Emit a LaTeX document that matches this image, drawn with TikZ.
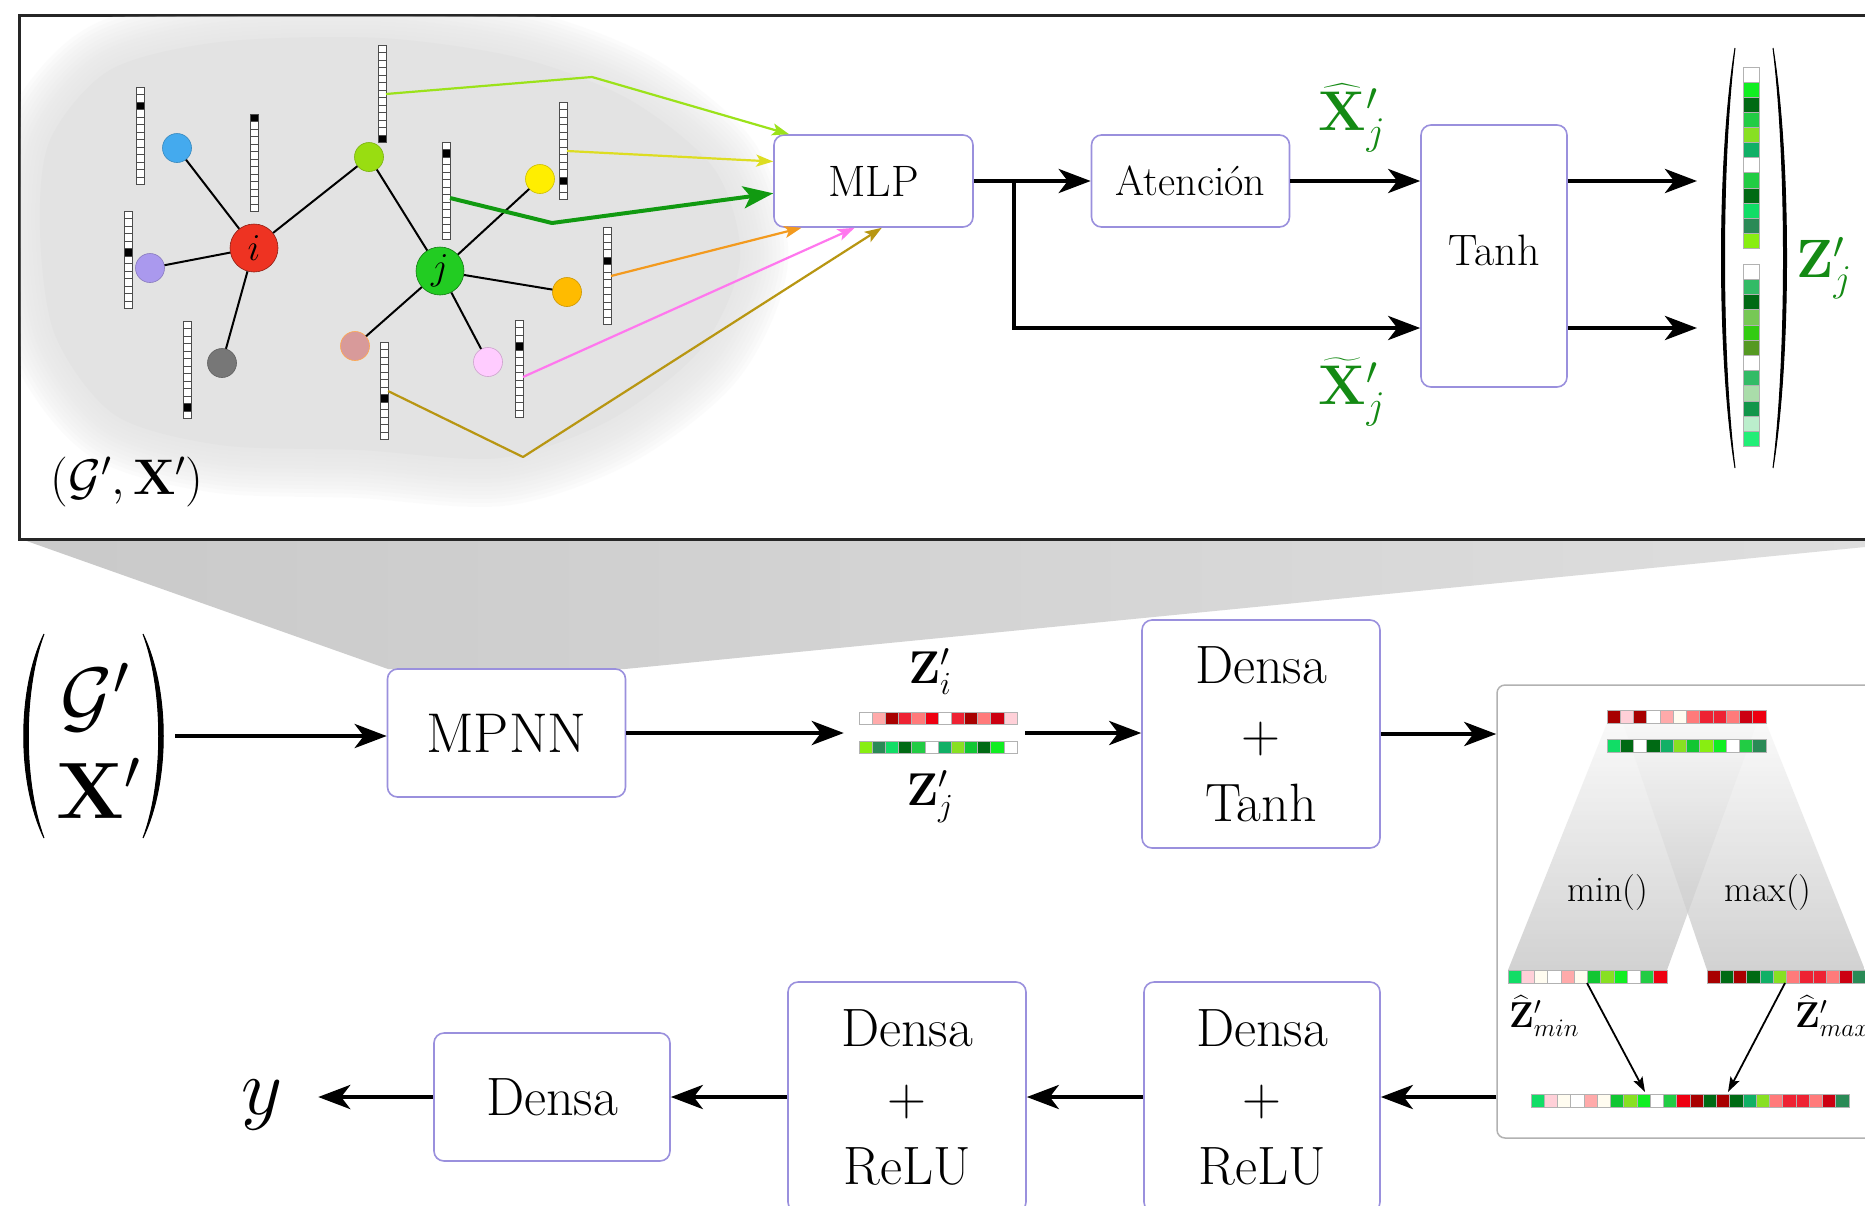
\RequirePackage{fix-cm}
\documentclass[tikz,border=0pt]{standalone}
\usepackage{amsmath}
\usetikzlibrary{arrows.meta,calc}
\definecolor{boxc}{HTML}{9A90DD}
\definecolor{dg}{HTML}{148A14}
\definecolor{rD}{HTML}{A80000}
\definecolor{rP}{HTML}{FFAAAA}
\definecolor{rPP}{HTML}{FFD0D8}
\definecolor{rM}{HTML}{EE2233}
\definecolor{rS}{HTML}{FF7A7A}
\definecolor{rB}{HTML}{EE0011}
\definecolor{rC}{HTML}{CC0011}
\definecolor{wC}{HTML}{FFFCF0}
\definecolor{gL}{HTML}{88EE11}
\definecolor{gSea}{HTML}{2A8A56}
\definecolor{gS}{HTML}{11DD66}
\definecolor{gD}{HTML}{006A14}
\definecolor{gM}{HTML}{22CC44}
\definecolor{gT}{HTML}{11B066}
\definecolor{gY}{HTML}{88E022}
\definecolor{gMb}{HTML}{11C633}
\definecolor{gA}{HTML}{11EE22}
\definecolor{gMS}{HTML}{33BB66}
\definecolor{gLG}{HTML}{77C855}
\definecolor{gC}{HTML}{33CC11}
\definecolor{gO}{HTML}{559922}
\definecolor{gPale}{HTML}{AADDAA}
\definecolor{gF}{HTML}{11964A}
\definecolor{gVL}{HTML}{BBEECC}
\definecolor{gSp}{HTML}{22EE77}
\definecolor{cI}{HTML}{EE3322}
\definecolor{cJ}{HTML}{22CC22}
\definecolor{cB}{HTML}{44AAEE}
\definecolor{cP}{HTML}{AA99EE}
\definecolor{cG}{HTML}{777777}
\definecolor{cL}{HTML}{99DD11}
\definecolor{cY}{HTML}{FFEE00}
\definecolor{cO}{HTML}{FFBB00}
\definecolor{cK}{HTML}{FFCCFF}
\definecolor{cR}{HTML}{D89A9A}
\definecolor{aL}{HTML}{9BE21A}
\definecolor{aY}{HTML}{DDDD22}
\definecolor{aG}{HTML}{119A11}
\definecolor{aO}{HTML}{F39A1E}
\definecolor{aK}{HTML}{FF77EE}
\definecolor{aB}{HTML}{B89612}
\newcommand\colbar[5]{\foreach \cc [count=\n from 0] in {#5}{\filldraw[draw=gray!60,line width=0.6pt,fill=\cc] ({#1+\n*#3},#2) rectangle ++(#3,#4);}}
\newcommand\colcol[5]{\foreach \cc [count=\n from 0] in {#5}{\filldraw[draw=gray!60,line width=0.6pt,fill=\cc] (#1,{#2+\n*#4}) rectangle ++(#3,#4);}}
\newcommand\featvec[3]{\foreach \n in {0,...,12}{\draw[draw=gray!60!black,line width=0.6pt,fill=white] ({#1-4},{#2+\n*7.5}) rectangle ++(8,7.5);}\fill[black] ({#1-3.5},{#2+#3*7.5+0.5}) rectangle ++(7,6.5);}
\begin{document}
\begin{tikzpicture}[x=1pt,y=-1pt,
  box/.style={draw=boxc,line width=1.6pt,rounded corners=10pt,fill=white,align=center,inner sep=0pt},
  flow/.style={line width=4.5pt,-{Stealth[length=32pt,width=24pt,inset=9pt]}},
  carr/.style={line width=2.2pt,line join=round,-{Stealth[length=17pt,width=12pt,inset=4pt]}},
  gedge/.style={line width=2pt},
  gn/.style={circle,inner sep=0pt,minimum size=29pt,line width=0.6pt},
  lbl/.style={inner sep=0pt}]
\useasboundingbox (0,0) rectangle (1865,1205);
\fill[white] (0,0) rectangle (1865,1205);
% zoom shadow
\shade[left color=gray!42,right color=gray!26] (21,539) -- (1865,539) -- (1865,547) -- (625,669) -- (388,669) -- cycle;
% top frame
\draw[line width=3pt,draw=black!85,fill=white] (19,15) rectangle (1920,539);
% soft blob
\begin{scope}
\clip (20.5,16.5) rectangle (1865,537.5);
\foreach \w in {96,88,...,8}
  \draw[line width=\w pt,gray!22,opacity=0.11,line join=round] plot[smooth cycle] coordinates {(50,140) (110,70) (220,42) (380,38) (520,58) (630,100) (715,170) (740,260) (700,350) (610,420) (500,458) (360,450) (220,445) (115,415) (55,335) (40,230)};
\fill[gray!22] plot[smooth cycle] coordinates {(50,140) (110,70) (220,42) (380,38) (520,58) (630,100) (715,170) (740,260) (700,350) (610,420) (500,458) (360,450) (220,445) (115,415) (55,335) (40,230)};
\end{scope}
% graph
\node[gn,fill=cI,draw=cI!60!black,minimum size=48pt,font=\fontsize{38}{38}\selectfont] (ni) at (254,248) {$i$};
\node[gn,fill=cJ,draw=cJ!60!black,minimum size=48pt,font=\fontsize{38}{38}\selectfont] (nj) at (440,271) {$j$};
\node[gn,fill=cB,draw=cB!80!black] (nb) at (177,148) {};
\node[gn,fill=cP,draw=cP!80!black] (np) at (150,268) {};
\node[gn,fill=cG,draw=cG!80!black] (ng) at (222,363) {};
\node[gn,fill=cL,draw=cL!80!black] (nl) at (369,157) {};
\node[gn,fill=cY,draw=cY!80!black] (ny) at (540,179) {};
\node[gn,fill=cO,draw=cO!80!black] (no) at (567,292) {};
\node[gn,fill=cK,draw=cK!80!black] (nk) at (488,362) {};
\node[gn,fill=cR,draw=orange!70] (nr) at (355,346) {};
\draw[gedge] (ni)--(nb) (ni)--(np) (ni)--(ng) (ni)--(nl) (nl)--(nj) (nj)--(ny) (nj)--(no) (nj)--(nk) (nj)--(nr);
% feature vectors
\featvec{140}{87}{2}
\featvec{254}{114}{0}
\featvec{128}{211}{5}
\featvec{187}{321}{11}
\featvec{382}{45}{12}
\featvec{446}{142}{1}
\featvec{563}{102}{10}
\featvec{607}{227}{4}
\featvec{519}{320}{3}
\featvec{384}{342}{7}
\node[lbl,font=\fontsize{50}{54}\selectfont] (gxs) at (127,482) {$(\mathcal{G}',\mathbf{X}')$};
% top pipeline boxes
\node[box,minimum width=199pt,minimum height=92pt,font=\fontsize{44}{50}\selectfont] (mlp) at (873.5,181) {MLP};
\node[box,minimum width=198pt,minimum height=92pt,font=\fontsize{42}{50}\selectfont] (aten) at (1190.5,181) {Atención};
\node[box,minimum width=146pt,minimum height=262pt,font=\fontsize{44}{50}\selectfont] (tanh) at (1494,256) {\raisebox{12pt}{Tanh}};
% coloured arrows into MLP
\coordinate (s5) at (386,94);
\coordinate (s7) at (567,151);
\coordinate (s6) at (450,198);
\coordinate (s8) at (611,276);
\coordinate (s9) at (523,377);
\coordinate (s10) at (388,391);
\coordinate (b5) at (592,77);
\coordinate (b6) at (552,223);
\coordinate (b10) at (523,457);
\draw[carr,aL] (s5) -- (b5) -- (mlp.151);
\draw[carr,aY] (s7) -- (mlp.169);
\draw[carr,aG,line width=4pt,-{Stealth[length=30pt,width=22pt,inset=7pt]}] (s6) -- (b6) -- (mlp.187);
\draw[carr,aO] (s8) -- (mlp.213);
\draw[carr,aK] (s9) -- (mlp.248);
\draw[carr,aB] (s10) -- (b10) -- (mlp.280);
% flow in top box
\coordinate (br) at (1014,181);
\coordinate (lowy) at (0,328);
\coordinate (zo1) at (1697,181);
\coordinate (zo2) at (1697,328);
\draw[flow] (mlp.east) -- (aten.west);
\draw[flow,line join=miter] (br) |- (tanh.west |- lowy);
\draw[flow] (aten.east) -- (tanh.west |- aten.east);
\draw[flow] (tanh.east |- zo1) -- (zo1);
\draw[flow] (tanh.east |- zo2) -- (zo2);
\node[lbl,text=dg,font=\fontsize{56}{60}\selectfont] (xhat) at (1352,118) {$\widehat{\mathbf{X}}'_j$};
\node[lbl,text=dg,font=\fontsize{56}{60}\selectfont] (xtil) at (1352,392) {$\widetilde{\mathbf{X}}'_j$};
% Z'_j column
\filldraw[line width=1pt] (1735,48) .. controls (1717,160) and (1717,356) .. (1735,468) .. controls (1721,356) and (1721,160) .. (1735,48) -- cycle;
\filldraw[line width=1pt] (1773,48) .. controls (1791,160) and (1791,356) .. (1773,468) .. controls (1787,356) and (1787,160) .. (1773,48) -- cycle;
\colcol{1743}{67}{16}{15.1}{white,gA,gD,gM,gY,gT,white,gM,gD,gS,gSea,gL}
\colcol{1743}{264}{16}{15.2}{white,gMS,gD,gLG,gC,gO,white,gMS,gPale,gF,gVL,gSp}
\node[lbl,text=dg,font=\fontsize{54}{60}\selectfont] (zjtop) at (1824,268) {$\mathbf{Z}'_j$};
% bottom: input
\filldraw[line width=1pt] (44,634) .. controls (17,690) and (17,782) .. (44,838) .. controls (23,782) and (23,690) .. (44,634) -- cycle;
\filldraw[line width=1pt] (143,634) .. controls (170,690) and (170,782) .. (143,838) .. controls (164,782) and (164,690) .. (143,634) -- cycle;
\node[lbl,minimum width=164pt,minimum height=204pt] (gx) at (93,736) {};
\node[lbl,font=\fontsize{80}{80}\selectfont] (gxg) at (95,697) {$\mathcal{G}'$};
\node[lbl,font=\fontsize{80}{80}\selectfont] (gxx) at (98,788) {$\mathbf{X}'$};
\node[box,minimum width=238pt,minimum height=128pt,font=\fontsize{56}{60}\selectfont] (mpnn) at (506.5,733) {MPNN};
\node[lbl,minimum width=158pt,minimum height=42pt] (zb) at (938,733) {};
\colbar{859}{712}{13.17}{12}{white,rP,rD,rM,rS,rB,white,rM,rD,rS,rC,rPP}
\colbar{859}{741}{13.17}{12}{gL,gSea,gS,gD,gM,white,gT,gY,gMb,gD,gA,white}
\node[lbl,font=\fontsize{46}{50}\selectfont] (zil) at (930,672) {$\mathbf{Z}'_i$};
\node[lbl,font=\fontsize{46}{50}\selectfont] (zjl) at (930,797) {$\mathbf{Z}'_j$};
\node[box,minimum width=238pt,minimum height=228pt,font=\fontsize{54}{69}\selectfont] (dt) at (1261,734) {Densa\\+\\Tanh};
% right box
\node[draw=gray!60,line width=1.5pt,rounded corners=8pt,fill=white,minimum width=420pt,minimum height=453pt,inner sep=0pt] (rb) at (1707,911.5) {};
\shade[top color=gray!6,bottom color=gray!50,opacity=0.7] (1607,723) -- (1757,723) -- (1667,970) -- (1508,970) -- cycle;
\shade[top color=gray!6,bottom color=gray!50,opacity=0.7] (1623,723) -- (1766,723) -- (1865,970) -- (1707,970) -- cycle;
\colbar{1607}{710}{13.25}{13}{rD,rPP,rD,white,rP,wC,rS,rM,rM,rS,rC,rB}
\colbar{1607}{739}{13.25}{13}{gS,gD,white,gD,gT,gY,gMb,gL,gA,white,gM,gSea}
\colbar{1508}{970}{13.25}{13}{gS,rPP,wC,white,rP,wC,gMb,gY,gA,white,gM,rB}
\colbar{1707}{970}{13.25}{13}{rD,gD,rD,gD,gT,gY,rS,rM,rM,rS,rC,gSea}
\colbar{1531}{1094}{13.25}{13}{gS,rPP,wC,white,rP,wC,gMb,gY,gA,white,gM,rB,rD,gD,rD,gD,gT,gY,rS,rM,rM,rS,rC,gSea}
\node[lbl,font=\fontsize{36}{40}\selectfont] (minl) at (1608,893) {min()};
\node[lbl,font=\fontsize{36}{40}\selectfont] (maxl) at (1768,893) {max()};
\node[lbl,font=\fontsize{36}{40}\selectfont] (zmin) at (1544,1016) {$\widehat{\mathbf{Z}}'_{min}$};
\node[lbl,font=\fontsize{36}{40}\selectfont] (zmax) at (1832,1016) {$\widehat{\mathbf{Z}}'_{max}$};
\coordinate (mina) at (1587,983);
\coordinate (maxa) at (1785,983);
\coordinate (fin1) at (1645,1092);
\coordinate (fin2) at (1728,1092);
\draw[line width=1.8pt,-{Stealth[length=15pt,width=10pt,inset=3pt]}] (mina) -- (fin1);
\draw[line width=1.8pt,-{Stealth[length=15pt,width=10pt,inset=3pt]}] (maxa) -- (fin2);
% bottom row
\node[box,minimum width=236pt,minimum height=230pt,font=\fontsize{54}{69}\selectfont] (r2) at (1262,1097) {Densa\\+\\ReLU};
\node[box,minimum width=238pt,minimum height=230pt,font=\fontsize{54}{69}\selectfont] (r1) at (907,1097) {Densa\\+\\ReLU};
\node[box,minimum width=236pt,minimum height=128pt,font=\fontsize{54}{60}\selectfont] (de) at (552,1097) {Densa};
\node[lbl,minimum width=112pt,font=\fontsize{80}{80}\selectfont] (yl) at (262,1105) {$y$};
% main flow arrows
\draw[flow] (gx.east) -- (mpnn.west |- gx.east);
\draw[flow,shorten >=15pt] (mpnn.east) -- (zb.west |- mpnn.east);
\draw[flow,shorten <=8pt] (zb.east) -- (dt.west |- zb.east);
\draw[flow] (dt.east) -- (rb.west |- dt.east);
\draw[flow] (rb.west |- r2.east) -- (r2.east);
\draw[flow] (r2.west) -- (r1.east);
\draw[flow] (r1.west) -- (de.east);
\draw[flow] (de.west) -- (yl.east |- de.west);
\end{tikzpicture}
\end{document}
